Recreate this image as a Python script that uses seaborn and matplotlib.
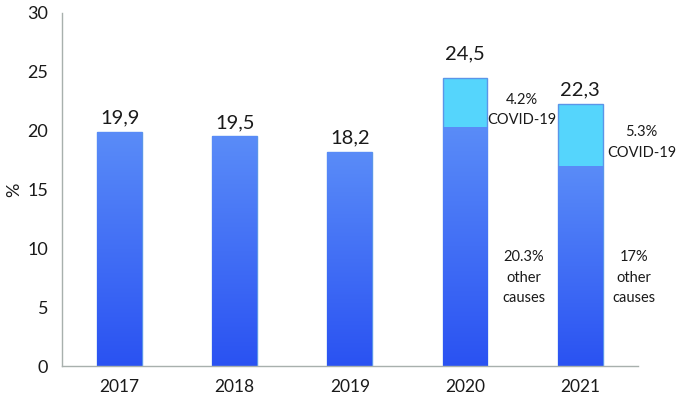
import numpy as np
import pandas as pd
import seaborn as sns
import matplotlib.pyplot as plt
from matplotlib.colors import LinearSegmentedColormap

# Chart data
years = ["2017", "2018", "2019", "2020", "2021"]
totals = [19.9, 19.5, 18.2, 24.5, 22.3]
other_causes = [19.9, 19.5, 18.2, 20.3, 17.0]
covid = [0.0, 0.0, 0.0, 4.2, 5.3]
total_labels = ["19,9", "19,5", "18,2", "24,5", "22,3"]

sns.set_style("white")
plt.rcParams['font.family'] = ['Lato', 'DejaVu Sans']

df = pd.DataFrame({'year': years, 'total': totals, 'other': other_causes, 'covid': covid})

fig = plt.figure(figsize=(6.82, 4.01), dpi=100)
ax = fig.add_axes([0.091, 0.087, 0.844, 0.881])

# Full stacks (light cyan covid part shows above the base bars)
sns.barplot(data=df, x='year', y='total', color='#55d5fc', width=0.39,
            edgecolor='#5b95e8', linewidth=1.0, saturation=1, ax=ax)
n_top = len(ax.patches)
# Base bars ("other causes")
sns.barplot(data=df, x='year', y='other', color='#3f70f5', width=0.39,
            saturation=1, linewidth=0, ax=ax)

# Vertical gradient over base bars
grad_cmap = LinearSegmentedColormap.from_list('bars', ['#2a52f2', '#5a8cf8'])
grad = np.linspace(0, 1, 256).reshape(-1, 1)
for p in ax.patches[n_top:]:
    x0, y0 = p.get_x(), p.get_y()
    w, h = p.get_width(), p.get_height()
    im = ax.imshow(grad, cmap=grad_cmap, origin='lower', aspect='auto',
                   extent=[x0, x0 + w, y0, y0 + h], zorder=p.get_zorder() + 0.1)
    im.set_clip_path(p)

# Value labels above bars
for i, (v, lab) in enumerate(zip(totals, total_labels)):
    off = 11 if i == 3 else 4
    ax.annotate(lab, (i, v), xytext=(0, off), textcoords='offset points',
                ha='center', va='bottom', fontsize=14.5, color='#1a1a1a')

# Side annotations for the split years
note_kw = dict(ha='center', va='center', fontsize=10.5, color='#1a1a1a', linespacing=1.6)
ax.text(3.49, 21.75, "4.2%\nCOVID-19", **note_kw)
ax.text(4.535, 19.0, "5.3%\nCOVID-19", **note_kw)
ax.text(3.51, 7.5, "20.3%\nother\ncauses", **note_kw)
ax.text(4.47, 7.5, "17%\nother\ncauses", **note_kw)

# Axes styling
ax.set_xlim(-0.5, 4.5)
ax.set_ylim(0, 30)
ax.set_yticks(range(0, 31, 5))
ax.set_xlabel('')
ax.set_ylabel('%', fontsize=13, color='#1a1a1a')
ax.yaxis.set_label_coords(-0.07, 0.5)
sns.despine(ax=ax, top=True, right=True)
for s in ['left', 'bottom']:
    ax.spines[s].set_color('#a8b0ad')
    ax.spines[s].set_linewidth(1.0)
ax.set_xticks(np.arange(-0.5, 5, 1), minor=True)
ax.tick_params(axis='x', which='major', length=0, labelsize=12.5, pad=9, colors='#1a1a1a')
ax.tick_params(axis='x', which='minor', length=3.6, color='#a8b0ad', direction='out')
ax.tick_params(axis='y', length=3.6, color='#a8b0ad', direction='out', labelsize=13,
               labelcolor='#1a1a1a', pad=6.5)

fig.savefig('out.png', dpi=100)
